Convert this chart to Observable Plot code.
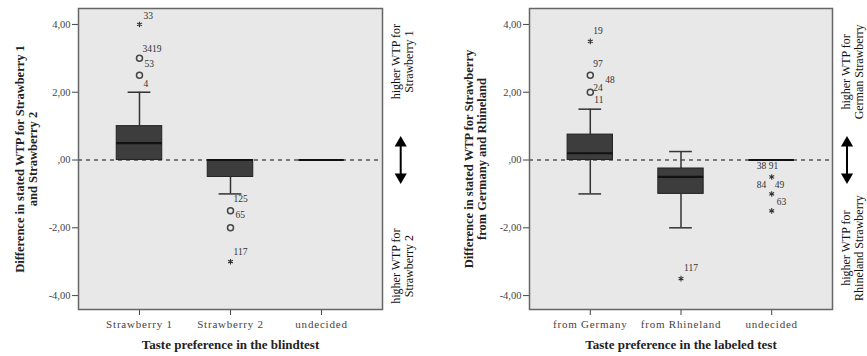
<!DOCTYPE html>
<html><head><meta charset="utf-8">
<script src="https://cdn.jsdelivr.net/npm/d3@7"></script>
<script src="https://cdn.jsdelivr.net/npm/@observablehq/plot@0.6"></script>
<style>
body{margin:0;background:#fff}
#wrap{display:flex;width:867px;height:356px;overflow:hidden}
g[aria-label="y-title"] text{letter-spacing:0.4px}
g[aria-label="x-title"] text{letter-spacing:0.85px}
g[aria-label="x-axis tick label"] text{letter-spacing:0.8px}
</style>
</head><body><div id="wrap"></div>
<script>
// ---------- shared axis ----------
const yTicks = [-4, -2, 0, 2, 4];

// ---------- left panel: blind test ----------
const blindCategories = ["Strawberry 1", "Strawberry 2", "undecided"];
const blindQ1     = [0,   -0.5, 0];
const blindMedian = [0.5,  0,   0];
const blindQ3     = [1.0,  0,   0];
const blindLow    = [0,   -1.0, 0];
const blindHigh   = [2.0,  0,   0];
const blindOutCat   = [0, 0, 0, 1, 1, 1];
const blindOutValue = [4, 3, 2.5, -1.5, -2, -3];
const blindOutKind  = ["extreme", "outlier", "outlier", "outlier", "outlier", "extreme"];
const blindLabelText  = ["33", "3419", "53", "4", "125", "65", "117"];
const blindLabelCat   = [0, 0, 0, 0, 1, 1, 1];
const blindLabelValue = [4, 3, 3, 2.5, -1.5, -1.5, -3];
const blindLabelOffset = [[4,-8],[3,-9],[5,6],[4,9],[3,-12],[5,4],[3,-10]];

// ---------- right panel: labeled test ----------
const labeledCategories = ["from Germany", "from Rhineland", "undecided"];
const labeledQ1     = [0,    -1.0,  0];
const labeledMedian = [0.2,  -0.5,  0];
const labeledQ3     = [0.75, -0.25, 0];
const labeledLow    = [-1.0, -2.0,  0];
const labeledHigh   = [1.5,   0.25, 0];
const labeledOutCat   = [0, 0, 0, 1, 2, 2, 2];
const labeledOutValue = [3.5, 2.5, 2.0, -3.5, -0.5, -1.0, -1.5];
const labeledOutKind  = ["extreme", "outlier", "outlier", "extreme", "extreme", "extreme", "extreme"];
const labeledLabelText  = ["19", "97", "48", "24", "11", "117", "38", "91", "84", "49", "63"];
const labeledLabelCat   = [0, 0, 0, 0, 0, 1, 2, 2, 2, 2, 2];
const labeledLabelValue = [3.5, 2.5, 2.5, 2.0, 2.0, -3.5, -0.5, -0.5, -1.0, -1.0, -1.5];
const labeledLabelOffset = [[3,-10],[3,-11],[15,5],[3,-4],[4,8],[3,-11],[-15,-11],[-3,-11],[-15,-9],[3,-9],[5,-9]];

const blindPanel = {
  categories: blindCategories, q1: blindQ1, median: blindMedian, q3: blindQ3, low: blindLow, high: blindHigh,
  outCat: blindOutCat, outValue: blindOutValue, outKind: blindOutKind,
  labelText: blindLabelText, labelCat: blindLabelCat, labelValue: blindLabelValue, labelOffset: blindLabelOffset,
  yLabel: "Difference in stated WTP for Strawberry 1\nand Strawberry 2",
  xLabel: "Taste preference in the blindtest",
  upperNote: "higher WTP for\nStrawberry 1", upperNoteY: 2.9,
  lowerNote: "higher WTP for\nStrawberry 2", lowerNoteY: -3.13,
  arrowX: 2.87,
  width: 433, marginLeft: 78, marginRight: 51, yLabelDx: -52
};
const labeledPanel = {
  categories: labeledCategories, q1: labeledQ1, median: labeledMedian, q3: labeledQ3, low: labeledLow, high: labeledHigh,
  outCat: labeledOutCat, outValue: labeledOutValue, outKind: labeledOutKind,
  labelText: labeledLabelText, labelCat: labeledLabelCat, labelValue: labeledLabelValue, labelOffset: labeledLabelOffset,
  yLabel: "Difference in stated WTP for Strawberry\nfrom Germany and Rhineland",
  xLabel: "Taste preference in the labeled test",
  upperNote: "higher WTP for\nGerman Strawberry", upperNoteY: 2.6,
  lowerNote: "higher WTP for\nRhineland Strawberry", lowerNoteY: -2.6,
  arrowX: 2.83,
  width: 434, marginLeft: 96, marginRight: 35, yLabelDx: -54
};

const fmt = d => d === 0 ? ",00" : d.toFixed(2).replace(".", ",");
const serif = "'Liberation Serif', 'Times New Roman', serif";

function panel(p) {
  const rows = p.categories.map((c, i) => ({i, c, q1: p.q1[i], median: p.median[i], q3: p.q3[i], low: p.low[i], high: p.high[i]}));
  const outs = p.outCat.map((c, k) => ({i: c, v: p.outValue[k], kind: p.outKind[k]}));
  const labels = p.labelText.map((t, k) => ({i: p.labelCat[k], v: p.labelValue[k], t, dx: p.labelOffset[k][0], dy: p.labelOffset[k][1]}));
  const boxHalf = 0.25, capHalf = 0.125, arrowHalf = 0.5;
  const notes = [{x: 2.885, y: p.upperNoteY, t: p.upperNote}, {x: 2.885, y: p.lowerNoteY, t: p.lowerNote}];
  const arrowEnds = [{x: p.arrowX, y: arrowHalf, r: 0}, {x: p.arrowX, y: -arrowHalf, r: 180}];

  const labelMarks = labels.map(l => Plot.text([l], {x: "i", y: "v", text: "t", dx: l.dx, dy: l.dy, textAnchor: "start", fontSize: 9.5, fill: "#333"}));

  return Plot.plot({
    width: p.width, height: 356,
    marginLeft: p.marginLeft, marginRight: p.marginRight, marginTop: 8, marginBottom: 47,
    style: {fontFamily: serif, fontSize: "10.5px", background: "white", color: "#222", overflow: "visible"},
    x: {type: "linear", domain: [-0.67, 2.67]},
    y: {domain: [-4.41, 4.47]},
    marks: [
      Plot.frame({fill: "#e8e8e8", stroke: null}),
      Plot.axisY({ticks: yTicks, tickFormat: fmt, tickSize: 6, tickPadding: 2, label: null, color: "#444"}),
      Plot.axisX({ticks: [0, 1, 2], tickFormat: i => p.categories[i], tickSize: 6, tickPadding: 5, label: null, color: "#444", fontSize: 11}),
      Plot.ruleY([0], {stroke: "#555", strokeWidth: 1.3, strokeDasharray: "4,4"}),
      // whiskers
      Plot.ruleX(rows, {x: "i", y1: "q3", y2: "high", stroke: "#333", strokeWidth: 1.5}),
      Plot.ruleX(rows, {x: "i", y1: "low", y2: "q1", stroke: "#333", strokeWidth: 1.5}),
      Plot.ruleY(rows.filter(d => d.high > d.q3), {y: "high", x1: d => d.i - capHalf, x2: d => d.i + capHalf, stroke: "#333", strokeWidth: 1.5}),
      Plot.ruleY(rows.filter(d => d.low < d.q1), {y: "low", x1: d => d.i - capHalf, x2: d => d.i + capHalf, stroke: "#333", strokeWidth: 1.5}),
      // boxes
      Plot.rect(rows.filter(d => d.q3 > d.q1), {x1: d => d.i - boxHalf, x2: d => d.i + boxHalf, y1: "q1", y2: "q3", fill: "#3d3d3d", stroke: "#222", strokeWidth: 1}),
      Plot.ruleY(rows, {y: "median", x1: d => d.i - boxHalf, x2: d => d.i + boxHalf, stroke: "#111", strokeWidth: 2.2}),
      // outliers
      Plot.dot(outs.filter(d => d.kind === "outlier"), {x: "i", y: "v", r: 3, stroke: "#444", strokeWidth: 1.5, fill: "none"}),
      Plot.dot(outs.filter(d => d.kind === "extreme"), {x: "i", y: "v", r: 2.6, symbol: "asterisk", stroke: "#333", strokeWidth: 1.1}),
      ...labelMarks,
      Plot.frame({stroke: "#666", strokeWidth: 1.5}),
      // side annotations
      Plot.link([{x: p.arrowX}], {x1: "x", x2: "x", y1: -arrowHalf, y2: arrowHalf, stroke: "#000", strokeWidth: 2}),
      Plot.dot(arrowEnds, {x: "x", y: "y", rotate: "r", symbol: "triangle", r: 4.5, fill: "#000", stroke: null}),
      Plot.text(notes, {x: "x", y: "y", text: "t", rotate: -90, textAnchor: "middle", fontSize: 12, fill: "#111", lineHeight: 1.15}),
      // axis titles
      Plot.text([p.yLabel], {ariaLabel: "y-title", frameAnchor: "left", textAnchor: "middle", dx: p.yLabelDx, rotate: -90, fontSize: 12.5, fontWeight: "bold", fill: "#222", lineHeight: 1.0}),
      Plot.text([p.xLabel], {ariaLabel: "x-title", frameAnchor: "bottom", textAnchor: "middle", dy: 39, fontSize: 13, fontWeight: "bold", fill: "#222"})
    ]
  });
}

const wrap = document.getElementById("wrap");
wrap.append(panel(blindPanel), panel(labeledPanel));
</script>
</body></html>
